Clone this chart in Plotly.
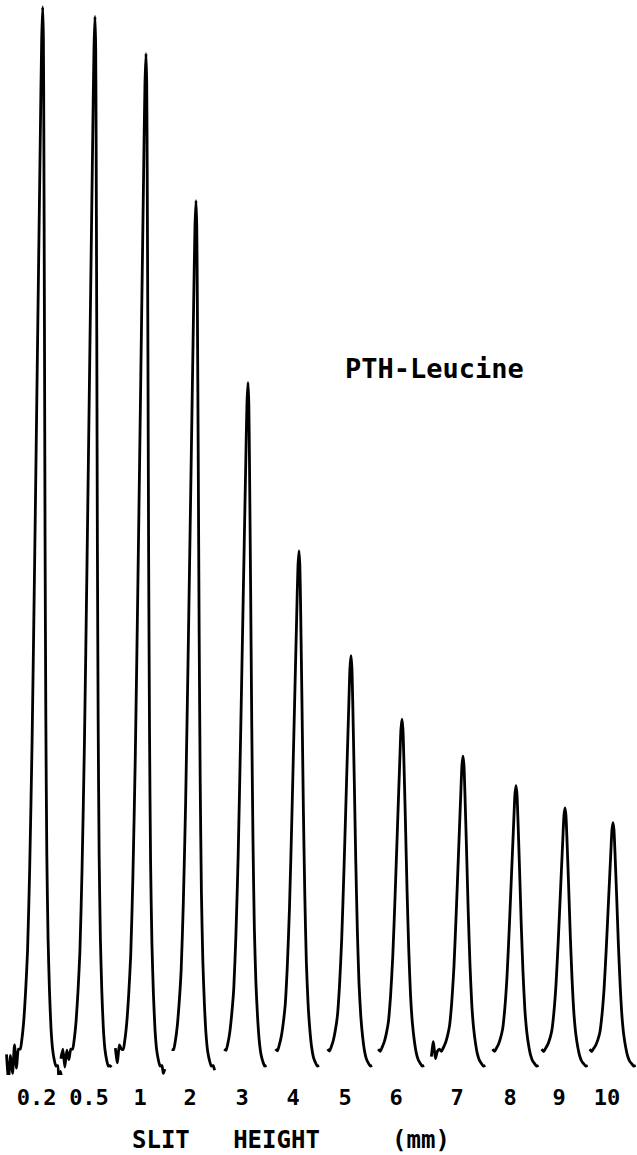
import plotly.graph_objects as go

# ---------------- data ----------------
slit_labels = ["0.2", "0.5", "1", "2", "3", "4", "5", "6", "7", "8", "9", "10"]
# apex position along the recorder chart (chart units)
peak_pos = [42.7, 95, 146, 196, 248, 299, 351, 402, 463, 516, 565, 613]
# peak heights, % of recorder full scale
peak_height = [100, 99.1, 95.6, 81.7, 64.5, 48.6, 38.7, 32.7, 29.2, 26.4, 24.3, 22.9]
# relative peak width
peak_width = [0.85, 0.85, 0.88, 0.90, 0.92, 0.95, 0.97, 1.0, 1.0, 1.0, 1.0, 1.0]

# shared peak profile (offset from apex, fraction of height) read from the 8 mm peak
profile_dx = [-22, -20, -18, -16, -14, -12, -10, -8, -6, -4, -2, -1, 0,
              1, 2, 4, 6, 8, 10, 12, 14, 16, 18, 20, 22, 24]
profile_f = [0.0, 0.003, 0.012, 0.03, 0.06, 0.10, 0.18, 0.30, 0.48, 0.68, 0.88, 0.97, 1.0,
             0.97, 0.89, 0.70, 0.50, 0.33, 0.20, 0.12, 0.07, 0.035, 0.015, 0.005, 0.0, 0.0]
# pen lead-in level (% full scale) along the same profile
profile_base = [1.5, 1.2, 1.3, 1.2, 1.0, 0.8, 0.6, 0.4, 0.2, 0.1, 0.0, 0.0, 0.0,
                0.0, 0.0, 0.0, 0.0, 0.0, 0.0, 0.0, 0.0, 0.0, 0.0, 0.0, -0.1, -0.05]

# baseline noise before / after each trace (% full scale)
lead_noise = [[1.0, -1.4, 0.9, -0.8, 1.9, -0.3], [0.6, 1.5, -0.2, 1.4, 0.5], [1.6, 0.2, 1.9],
              [], [], [], [], [], [0.8, 2.2, 0.6, 1.3], [], [], []]
tail_noise = [[-1.9, -0.6, -1.5], [-0.2], [-0.8, -0.4], [-0.5], [], [], [], [],
              [], [], [], []]

# pen-arc lean (chart units per % full scale)
PEN_LEAN = 0.055

fig = go.Figure()
for i in range(len(peak_pos)):
    H = peak_height[i]
    w = peak_width[i]
    xs, ys = [], []
    for dx, f, b in zip(profile_dx, profile_f, profile_base):
        xs.append(peak_pos[i] + dx * w - PEN_LEAN * (H - f * H))
        ys.append(f * H + b)
    x0 = xs[0]
    pre_x = [x0 - 2 * (len(lead_noise[i]) - k) for k in range(len(lead_noise[i]))]
    x1 = xs[-1]
    post_x = [x1 + 1.5 * (k + 1) for k in range(len(tail_noise[i]))]
    xs = pre_x + xs + post_x
    ys = lead_noise[i] + ys + tail_noise[i]
    fig.add_trace(go.Scatter(x=xs, y=ys, mode="lines",
                             line=dict(color="black", width=2.8, shape="spline", smoothing=0.6),
                             hoverinfo="skip", showlegend=False))

mono = "DejaVu Sans Mono"
fig.update_xaxes(range=[0, 637], showgrid=False, zeroline=False, showline=False,
                 tickmode="array", tickvals=peak_pos, ticktext=slit_labels, ticks="",
                 tickfont=dict(family=mono, size=22, color="black", weight="bold"),
                 ticklabelshift=-6, ticklabelstandoff=7)
fig.update_yaxes(range=[-0.945, 100.66], visible=False)

fig.add_annotation(text="SLIT\u00a0\u00a0\u00a0HEIGHT\u00a0\u00a0\u00a0\u00a0\u00a0(mm)",
                   xref="paper", yref="paper", x=291 / 637, y=(1075 - 1140) / 1075,
                   xanchor="center", yanchor="middle", showarrow=False,
                   font=dict(family=mono, size=24, color="black", weight="bold"))
fig.add_annotation(text="PTH-Leucine", xref="paper", yref="paper",
                   x=343 / 637, y=(1075 - 368) / 1075, xanchor="left", yanchor="middle",
                   showarrow=False, font=dict(family=mono, size=27, color="black", weight="bold"))

fig.update_layout(width=637, height=1155, margin=dict(l=0, r=0, t=0, b=80),
                  paper_bgcolor="white", plot_bgcolor="white")
fig.write_html("out.html")
